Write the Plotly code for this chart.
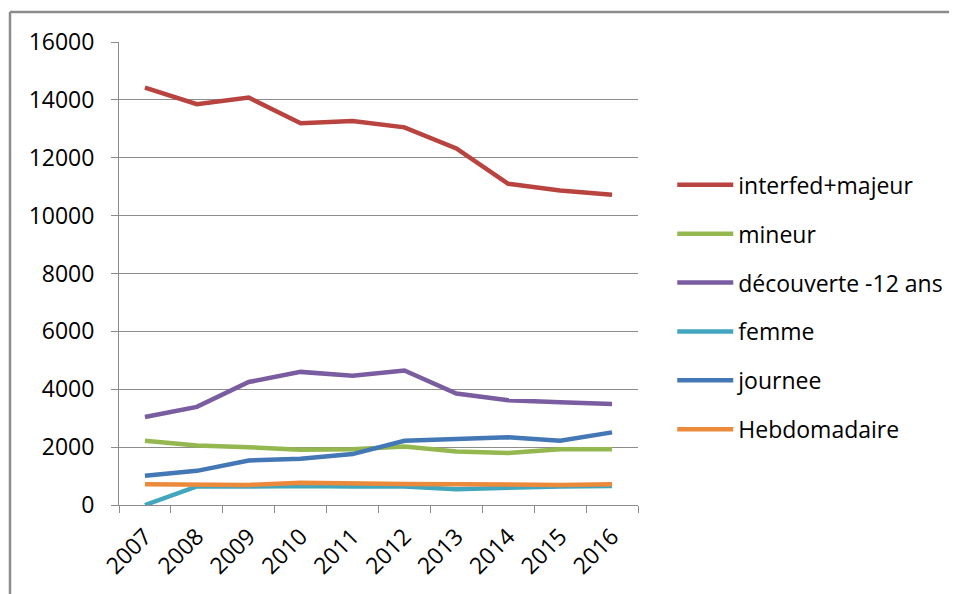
import plotly.graph_objects as go

years = ["2007", "2008", "2009", "2010", "2011", "2012", "2013", "2014", "2015", "2016"]

interfed_majeur = [14420, 13850, 14080, 13190, 13270, 13050, 12320, 11100, 10870, 10720]
mineur = [2220, 2060, 2000, 1910, 1930, 2020, 1850, 1800, 1930, 1930]
decouverte_12 = [3040, 3390, 4250, 4600, 4470, 4650, 3850, 3620, 3550, 3490]
femme = [0, 640, 640, 660, 640, 640, 545, 600, 640, 660]
journee = [1010, 1180, 1540, 1600, 1760, 2220, 2280, 2340, 2220, 2510]
hebdomadaire = [720, 695, 695, 765, 730, 730, 720, 695, 695, 720]

series = [
    ("interfed+majeur", interfed_majeur, "#B8433F"),
    ("mineur", mineur, "#94B750"),
    ("découverte -12 ans", decouverte_12, "#7A5CA0"),
    ("femme", femme, "#42A6BF"),
    ("journee", journee, "#4477B5"),
    ("Hebdomadaire", hebdomadaire, "#EB8A3B"),
]

FONT = "Open Sans"
FS = 23

# page has an 8px body margin; figure origin is at (8, 8)
W, H = 949, 586
L, T = 111, 34
PW, PH = 519, 463
R = W - L - PW
B = H - T - PH

fig = go.Figure()
for i, (name, vals, col) in enumerate(series):
    fig.add_trace(go.Scatter(
        x=years, y=vals, name=name, mode="lines",
        line=dict(color=col, width=4.5),
        legendgroup=f"g{i}",
    ))

fig.update_layout(
    width=W, height=H,
    margin=dict(l=L, r=R, t=T, b=B, autoexpand=False),
    paper_bgcolor="white", plot_bgcolor="white",
    font=dict(family=FONT, size=FS, color="#000000"),
    showlegend=True,
    legend=dict(
        x=1.066, xanchor="left", y=0.738, yanchor="top",
        font=dict(family=FONT, size=FS, color="#000000"),
        tracegroupgap=16, bgcolor="rgba(0,0,0,0)", itemwidth=56,
    ),
    xaxis=dict(
        type="category", range=[-0.5, 9.5], tickangle=-45, tickson="boundaries",
        ticks="outside", ticklen=7, tickcolor="#8C8C8C",
        showline=True, linecolor="#8C8C8C", linewidth=1,
        showgrid=False, zeroline=False, ticklabelstandoff=8,
        tickfont=dict(family=FONT, size=FS, color="#000000"),
    ),
    yaxis=dict(
        range=[0, 16000], dtick=2000, tickformat="d",
        ticks="outside", ticklen=7, tickcolor="#8C8C8C",
        showline=True, linecolor="#8C8C8C", linewidth=1,
        showgrid=True, gridcolor="#8C8C8C", gridwidth=1,
        zeroline=False, ticklabelstandoff=12,
        tickfont=dict(family=FONT, size=FS, color="#000000"),
    ),
)

# outer frame (only top and left edges visible in the reference)
fx = (2 - L) / PW
fy = (T + PH - 4) / PH
fig.add_shape(type="line", xref="paper", yref="paper",
              x0=fx, x1=(W + 10 - L) / PW, y0=fy, y1=fy,
              line=dict(color="#8C8C8C", width=2.5))
fig.add_shape(type="line", xref="paper", yref="paper",
              x0=fx, x1=fx, y0=fy, y1=(T + PH - H - 10) / PH,
              line=dict(color="#8C8C8C", width=2.5))

fig.write_html("out.html")
